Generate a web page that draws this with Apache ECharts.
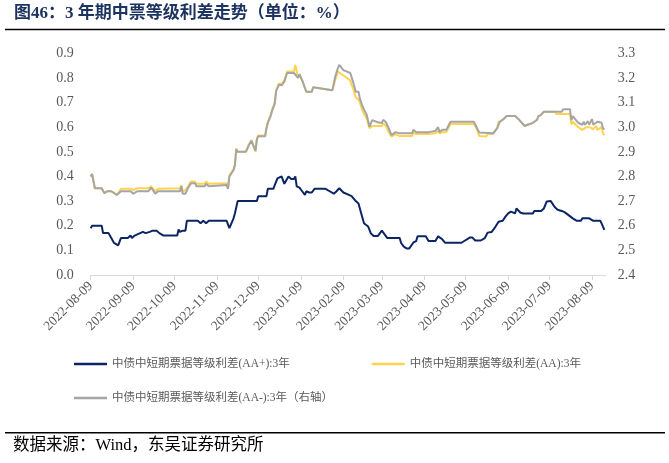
<!DOCTYPE html>
<html>
<head>
<meta charset="utf-8">
<script src="https://cdn.jsdelivr.net/npm/echarts@6/dist/echarts.min.js"></script>
<style>
html,body{margin:0;padding:0;background:#fff;}
#chart{width:669px;height:463px;}
</style>
</head>
<body>
<div id="chart"></div>
<script>
// ---------- data ----------
const titleText = '图46：3 年期中票等级利差走势（单位：%）';
const sourceText = '数据来源：Wind，东吴证券研究所';
const seriesNames = [
  '中债中短期票据等级利差(AA+):3年',
  '中债中短期票据等级利差(AA):3年',
  '中债中短期票据等级利差(AA-):3年（右轴）'
];
const tickDates = ['2022-08-09','2022-09-09','2022-10-09','2022-11-09','2022-12-09','2023-01-09','2023-02-09','2023-03-09','2023-04-09','2023-05-09','2023-06-09','2023-07-09','2023-08-09'];
const leftTicks = [0.0,0.1,0.2,0.3,0.4,0.5,0.6,0.7,0.8,0.9];
const rightTicks = [2.4,2.5,2.6,2.7,2.8,2.9,3.0,3.1,3.2,3.3];

const aaPlusDates = ['2022-08-09','2022-08-10','2022-08-17','2022-08-18','2022-08-22','2022-08-24','2022-08-26','2022-08-29','2022-08-31','2022-09-05','2022-09-07','2022-09-08','2022-09-10','2022-09-16','2022-09-18','2022-09-21','2022-09-23','2022-09-26','2022-09-28','2022-10-01','2022-10-11','2022-10-12','2022-10-13','2022-10-15','2022-10-17','2022-10-18','2022-10-26','2022-10-28','2022-10-30','2022-11-01','2022-11-03','2022-11-16','2022-11-18','2022-11-21','2022-11-22','2022-11-24','2022-12-08','2022-12-09','2022-12-15','2022-12-16','2022-12-20','2022-12-21','2022-12-23','2022-12-26','2022-12-28','2022-12-29','2022-12-31','2023-01-02','2023-01-04','2023-01-05','2023-01-06','2023-01-08','2023-01-10','2023-01-12','2023-01-13','2023-01-15','2023-01-17','2023-01-19','2023-01-27','2023-01-30','2023-02-02','2023-02-04','2023-02-06','2023-02-09','2023-02-13','2023-02-15','2023-02-16','2023-02-18','2023-02-20','2023-02-22','2023-02-24','2023-02-27','2023-03-01','2023-03-03','2023-03-06','2023-03-09','2023-03-10','2023-03-13','2023-03-22','2023-03-23','2023-03-25','2023-03-27','2023-03-29','2023-04-01','2023-04-03','2023-04-04','2023-04-10','2023-04-12','2023-04-17','2023-04-19','2023-04-22','2023-04-24','2023-05-06','2023-05-08','2023-05-12','2023-05-14','2023-05-16','2023-05-20','2023-05-23','2023-05-25','2023-05-28','2023-05-30','2023-06-02','2023-06-05','2023-06-07','2023-06-09','2023-06-11','2023-06-14','2023-06-15','2023-06-18','2023-06-20','2023-06-27','2023-06-28','2023-07-03','2023-07-05','2023-07-07','2023-07-10','2023-07-13','2023-07-15','2023-07-18','2023-07-20','2023-07-22','2023-07-26','2023-07-29','2023-08-01','2023-08-02','2023-08-07','2023-08-10','2023-08-15','2023-08-16','2023-08-18'];
const aaPlusValues = [0.19,0.20,0.20,0.17,0.17,0.15,0.13,0.12,0.15,0.15,0.16,0.15,0.16,0.175,0.17,0.175,0.18,0.18,0.17,0.16,0.16,0.185,0.175,0.18,0.18,0.22,0.22,0.21,0.22,0.21,0.22,0.22,0.19,0.23,0.25,0.30,0.30,0.32,0.32,0.35,0.35,0.365,0.392,0.40,0.37,0.372,0.40,0.39,0.39,0.40,0.36,0.355,0.34,0.325,0.34,0.335,0.335,0.35,0.35,0.34,0.33,0.34,0.352,0.335,0.325,0.32,0.315,0.30,0.29,0.25,0.21,0.197,0.169,0.158,0.158,0.18,0.178,0.15,0.15,0.13,0.115,0.108,0.108,0.132,0.138,0.157,0.157,0.138,0.138,0.157,0.145,0.131,0.131,0.138,0.152,0.152,0.14,0.14,0.15,0.172,0.175,0.19,0.216,0.22,0.237,0.25,0.257,0.25,0.27,0.253,0.25,0.25,0.26,0.26,0.27,0.298,0.30,0.275,0.265,0.26,0.255,0.247,0.23,0.22,0.22,0.23,0.23,0.22,0.22,0.21,0.183];

const aaDates = ['2022-08-09','2022-08-10','2022-08-12','2022-08-17','2022-08-19','2022-08-21','2022-08-24','2022-08-25','2022-08-28','2022-08-29','2022-08-31','2022-09-07','2022-09-09','2022-09-12','2022-09-20','2022-09-22','2022-09-25','2022-09-27','2022-10-13','2022-10-14','2022-10-15','2022-10-17','2022-10-19','2022-10-21','2022-10-24','2022-10-25','2022-10-31','2022-11-01','2022-11-03','2022-11-16','2022-11-17','2022-11-18','2022-11-21','2022-11-22','2022-11-23','2022-11-24','2022-11-30','2022-12-02','2022-12-04','2022-12-05','2022-12-07','2022-12-08','2022-12-09','2022-12-14','2022-12-15','2022-12-16','2022-12-18','2022-12-19','2022-12-21','2022-12-22','2022-12-24','2022-12-26','2022-12-28','2022-12-30','2023-01-04','2023-01-05','2023-01-07','2023-01-08','2023-01-10','2023-01-13','2023-01-17','2023-01-18','2023-02-01','2023-02-02','2023-02-03','2023-02-05','2023-02-06','2023-02-09','2023-02-10','2023-02-14','2023-02-15','2023-02-16','2023-02-18','2023-02-20','2023-02-21','2023-02-23','2023-02-26','2023-02-28','2023-03-02','2023-03-06','2023-03-09','2023-03-10','2023-03-12','2023-03-14','2023-03-16','2023-03-19','2023-03-20','2023-03-22','2023-03-31','2023-04-01','2023-04-03','2023-04-12','2023-04-13','2023-04-17','2023-04-19','2023-04-20','2023-04-22','2023-04-25','2023-04-28','2023-05-15','2023-05-17','2023-05-19','2023-05-20','2023-05-24','2023-05-25','2023-05-29','2023-06-01','2023-06-02','2023-06-05','2023-06-08','2023-06-14','2023-06-17','2023-06-21','2023-06-23','2023-06-26','2023-06-28','2023-06-30','2023-07-01','2023-07-03','2023-07-05','2023-07-13','2023-07-14','2023-07-24','2023-07-25','2023-07-26','2023-07-30','2023-08-02','2023-08-05','2023-08-06','2023-08-07','2023-08-10','2023-08-12','2023-08-13','2023-08-16','2023-08-17','2023-08-18'];
const aaValues = [0.40,0.41,0.352,0.352,0.332,0.34,0.34,0.335,0.325,0.32,0.35,0.35,0.345,0.352,0.352,0.36,0.34,0.35,0.352,0.365,0.34,0.345,0.36,0.38,0.38,0.37,0.37,0.38,0.37,0.372,0.355,0.405,0.43,0.45,0.514,0.50,0.50,0.528,0.548,0.55,0.50,0.555,0.566,0.566,0.60,0.622,0.65,0.67,0.70,0.75,0.778,0.775,0.79,0.826,0.826,0.853,0.80,0.815,0.79,0.744,0.744,0.762,0.75,0.744,0.79,0.826,0.82,0.81,0.805,0.79,0.77,0.76,0.72,0.713,0.70,0.665,0.635,0.596,0.605,0.605,0.605,0.615,0.605,0.58,0.562,0.572,0.58,0.564,0.564,0.58,0.572,0.572,0.575,0.575,0.585,0.575,0.58,0.58,0.613,0.613,0.595,0.564,0.562,0.562,0.572,0.572,0.596,0.622,0.63,0.645,0.645,0.63,0.605,0.61,0.615,0.622,0.63,0.645,0.65,0.663,0.663,0.654,0.654,0.611,0.622,0.60,0.589,0.60,0.592,0.60,0.592,0.605,0.589,0.60,0.575,0.568];

const aaMinusDates = ['2022-08-09','2022-08-10','2022-08-12','2022-08-17','2022-08-19','2022-08-21','2022-08-24','2022-08-25','2022-08-28','2022-08-29','2022-08-31','2022-09-07','2022-09-09','2022-09-12','2022-09-20','2022-09-22','2022-09-25','2022-09-27','2022-10-13','2022-10-14','2022-10-15','2022-10-17','2022-10-19','2022-10-21','2022-10-24','2022-10-25','2022-10-31','2022-11-01','2022-11-03','2022-11-16','2022-11-17','2022-11-18','2022-11-21','2022-11-22','2022-11-23','2022-11-24','2022-11-30','2022-12-02','2022-12-04','2022-12-05','2022-12-07','2022-12-08','2022-12-09','2022-12-14','2022-12-15','2022-12-16','2022-12-18','2022-12-19','2022-12-21','2022-12-22','2022-12-24','2022-12-26','2022-12-28','2022-12-30','2023-01-04','2023-01-05','2023-01-07','2023-01-08','2023-01-10','2023-01-13','2023-01-17','2023-01-18','2023-02-01','2023-02-02','2023-02-03','2023-02-05','2023-02-06','2023-02-09','2023-02-10','2023-02-14','2023-02-15','2023-02-16','2023-02-18','2023-02-20','2023-02-21','2023-02-23','2023-02-26','2023-02-28','2023-03-02','2023-03-06','2023-03-09','2023-03-10','2023-03-12','2023-03-14','2023-03-16','2023-03-19','2023-03-20','2023-03-22','2023-03-31','2023-04-01','2023-04-03','2023-04-12','2023-04-13','2023-04-17','2023-04-19','2023-04-20','2023-04-22','2023-04-25','2023-04-28','2023-05-15','2023-05-17','2023-05-19','2023-05-20','2023-05-29','2023-06-01','2023-06-02','2023-06-03','2023-06-05','2023-06-08','2023-06-14','2023-06-17','2023-06-21','2023-06-23','2023-06-26','2023-06-28','2023-06-30','2023-07-01','2023-07-03','2023-07-05','2023-07-18','2023-07-19','2023-07-24','2023-07-25','2023-07-26','2023-07-27','2023-07-30','2023-08-02','2023-08-03','2023-08-04','2023-08-06','2023-08-07','2023-08-09','2023-08-10','2023-08-13','2023-08-16','2023-08-17','2023-08-18'];
const aaMinusValues = [2.800,2.810,2.752,2.752,2.732,2.740,2.740,2.735,2.725,2.720,2.740,2.740,2.730,2.740,2.740,2.755,2.730,2.740,2.740,2.760,2.730,2.730,2.755,2.772,2.772,2.760,2.760,2.770,2.760,2.765,2.750,2.800,2.825,2.845,2.910,2.900,2.900,2.925,2.945,2.947,2.905,2.950,2.963,2.963,2.995,3.018,3.045,3.065,3.095,3.145,3.172,3.170,3.185,3.220,3.220,3.220,3.200,3.215,3.190,3.144,3.144,3.162,3.150,3.144,3.205,3.240,3.253,3.232,3.239,3.220,3.215,3.185,3.144,3.144,3.117,3.083,3.050,3.002,3.029,3.020,3.017,3.030,3.020,2.996,2.968,2.980,2.987,2.975,2.975,2.990,2.980,2.980,2.985,2.985,3.000,2.980,2.990,2.990,3.022,3.022,3.000,2.978,2.975,2.975,2.996,3.010,3.022,3.030,3.045,3.045,3.030,3.005,3.010,3.015,3.022,3.030,3.045,3.050,3.063,3.063,3.073,3.073,3.029,3.045,3.040,3.018,3.010,3.022,3.010,3.025,3.010,3.033,3.010,3.022,3.018,2.996,2.990];

// ---------- helpers ----------
const toTs = s => { const p = s.split('-').map(Number); return Date.UTC(p[0], p[1] - 1, p[2]); };
const pad = n => (n < 10 ? '0' : '') + n;
const fmtDate = ts => { const d = new Date(ts); return d.getUTCFullYear() + '-' + pad(d.getUTCMonth() + 1) + '-' + pad(d.getUTCDate()); };
const pairs = (ds, vs) => ds.map((d, i) => [toTs(d), vs[i]]);

const serifFont = "'Liberation Serif','Times New Roman','Noto Sans CJK SC',serif";
const labelColor = '#595959';

const chart = echarts.init(document.getElementById('chart'), null, {renderer: 'canvas'});
chart.setOption({
  animation: false,
  backgroundColor: '#ffffff',
  grid: {left: 90.7, right: 63.3, top: 53.3, bottom: 188, containLabel: false},
  xAxis: {
    type: 'value',
    min: toTs('2022-08-09'),
    max: toTs('2023-08-19'),
    axisLine: {show: true, lineStyle: {color: '#d9d9d9', width: 1}},
    axisTick: {show: true, length: 5, inside: false, lineStyle: {color: '#d9d9d9'}, customValues: tickDates.map(toTs)},
    splitLine: {show: false},
    axisLabel: {
      customValues: tickDates.map(toTs),
      formatter: v => fmtDate(v),
      rotate: 45,
      margin: 9,
      color: labelColor,
      fontSize: 13.5,
      fontFamily: serifFont
    }
  },
  yAxis: [
    {
      type: 'value', position: 'left', min: leftTicks[0], max: leftTicks[leftTicks.length - 1], interval: 0.1,
      axisLine: {show: false}, axisTick: {show: false}, splitLine: {show: false},
      axisLabel: {formatter: v => v.toFixed(1), color: labelColor, fontSize: 14, fontFamily: serifFont, margin: 17}
    },
    {
      type: 'value', position: 'right', min: rightTicks[0], max: rightTicks[rightTicks.length - 1], interval: 0.1,
      axisLine: {show: false}, axisTick: {show: false}, splitLine: {show: false},
      axisLabel: {formatter: v => v.toFixed(1), color: labelColor, fontSize: 14, fontFamily: serifFont, margin: 12}
    }
  ],
  legend: [
    {data: [seriesNames[0]], left: 74, top: 357},
    {data: [seriesNames[1]], left: 371.7, top: 357},
    {data: [seriesNames[2]], left: 74, top: 391}
  ].map(l => Object.assign(l, {
    orient: 'horizontal', icon: 'rect', itemWidth: 33, itemHeight: 2.5, itemGap: 10, padding: 0,
    textStyle: {color: labelColor, fontSize: 11.5, fontFamily: serifFont, lineHeight: 14, padding: [0, 0, 0, 0]}
  })),
  series: [
    {name: seriesNames[0], type: 'line', yAxisIndex: 0, data: pairs(aaPlusDates, aaPlusValues), showSymbol: false, symbol: 'none', lineStyle: {color: '#0b2464', width: 2}, itemStyle: {color: '#0b2464'}, z: 3},
    {name: seriesNames[1], type: 'line', yAxisIndex: 0, data: pairs(aaDates, aaValues), showSymbol: false, symbol: 'none', lineStyle: {color: '#ffd34f', width: 2}, itemStyle: {color: '#ffd34f'}, z: 3},
    {name: seriesNames[2], type: 'line', yAxisIndex: 1, data: pairs(aaMinusDates, aaMinusValues), showSymbol: false, symbol: 'none', lineStyle: {color: '#a5a5a5', width: 2}, itemStyle: {color: '#a5a5a5'}, z: 4}
  ],
  graphic: [
    {type: 'text', left: 14, top: 5, style: {text: titleText, fill: '#1d3461', font: "bold 17px " + serifFont}},
    {type: 'line', shape: {x1: 5, y1: 29.5, x2: 665, y2: 29.5}, style: {stroke: '#000', lineWidth: 1.5}},
    {type: 'line', shape: {x1: 5, y1: 432.7, x2: 665, y2: 432.7}, style: {stroke: '#000', lineWidth: 1.5}},
    {type: 'text', left: 13, top: 437, style: {text: sourceText, fill: '#000', font: "16.5px " + serifFont}}
  ]
});
</script>
</body>
</html>
